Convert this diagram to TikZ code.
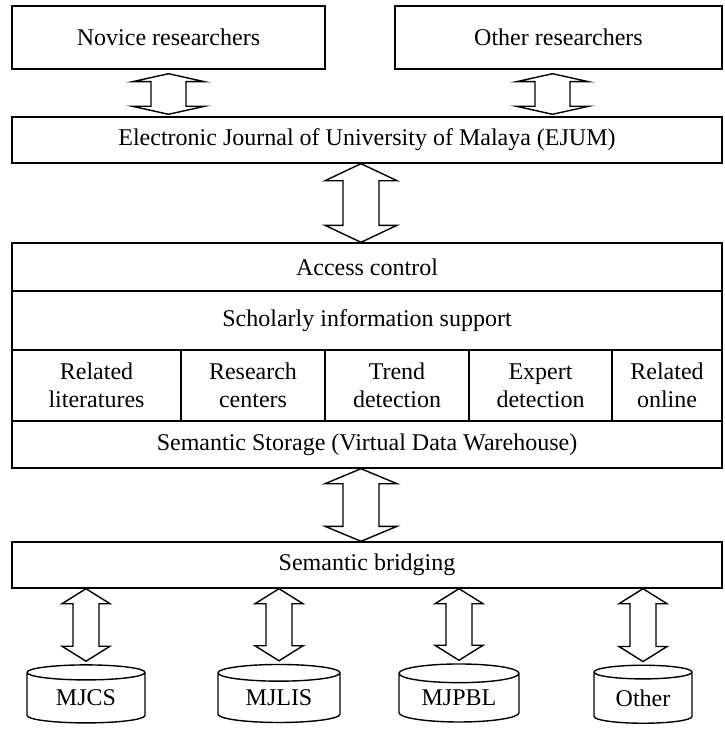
\documentclass[tikz,border=0pt]{standalone}
\usepackage{fontspec}
\setmainfont{Liberation Serif}
\usepackage{tikz}
\usetikzlibrary{positioning,shapes.geometric,calc}

\tikzset{
  layerbox/.style={draw,rectangle,inner sep=0pt,align=center,line width=0.7pt},
  dbstore/.style={draw,cylinder,shape border rotate=90,aspect=0.25,inner sep=0pt,line width=0.7pt},
  twinline/.style={draw,fill=white,line width=0.7pt,line join=miter}
}
% wide double arrow: top tip #1, bottom tip #2, half head #3, half shaft #4, head length #5
\newcommand{\twinarrow}[5]{%
  \path[twinline] (#1) -- ++(#3,#5) -- ++(#4-#3,0) -- ($(#2)+(#4,-#5)$) -- ++(#3-#4,0)
    -- (#2) -- ++(-#3,-#5) -- ++(#3-#4,0) -- ($(#1)+(-#4,#5)$) -- ++(#4-#3,0) -- cycle;}

\begin{document}
\begin{tikzpicture}[x=0.5pt,y=-0.5pt,font=\fontsize{12}{14}\selectfont]
  % lienzo en pixeles, y hacia abajo
  \useasboundingbox (0,0) rectangle (724,733);
  % --- usuarios ---
  \node[layerbox,minimum width=156.5pt,minimum height=31.5pt] (novice) at (168.5,37.5) {Novice researchers};
  \node[layerbox,minimum width=163.5pt,minimum height=31.5pt] (other) at (558.5,37.5) {Other researchers};
  \node[layerbox,minimum width=355pt,minimum height=23pt] (ejum) at (367,140) {Electronic Journal of University of Malaya (EJUM)};
  % --- bloque central ---
  \node[layerbox,minimum width=355pt,minimum height=24pt] (access) at (367,267) {Access control};
  \node[layerbox,minimum width=355pt,minimum height=29.5pt] (scholar) at (367,320.5) {Scholarly information support};
  \node[layerbox,minimum width=84.5pt,minimum height=35.5pt] (lit) at (96.5,385.5) {Related\\literatures};
  \node[layerbox,minimum width=72pt,minimum height=35.5pt] (centers) at (253,385.5) {Research\\centers};
  \node[layerbox,minimum width=72pt,minimum height=35.5pt] (trend) at (397,385.5) {Trend\\detection};
  \node[layerbox,minimum width=71.5pt,minimum height=35.5pt] (expert) at (540.5,385.5) {Expert\\detection};
  \node[layerbox,minimum width=55pt,minimum height=35.5pt] (online) at (667,385.5) {Related\\online};
  \node[layerbox,minimum width=355pt,minimum height=23.5pt] (storage) at (367,444.5) {Semantic Storage (Virtual Data Warehouse)};
  \node[layerbox,minimum width=355pt,minimum height=23pt] (bridge) at (367,565) {Semantic bridging};
  % --- fuentes ---
  \node[dbstore,minimum width=59pt,minimum height=29pt] (mjcs) at (86,698) {MJCS};
  \node[dbstore,minimum width=61pt,minimum height=29pt] (mjlis) at (279,698) {MJLIS};
  \node[dbstore,minimum width=60pt,minimum height=29pt] (mjpbl) at (459,698) {MJPBL};
  \node[dbstore,minimum width=49pt,minimum height=29pt] (othdb) at (643,698) {Other};
  % --- flechas dobles ---
  \coordinate (n1) at ($(novice.south)+(0,4)$);
  \coordinate (n2) at ($(ejum.north -| n1)+(0,-2)$);
  \coordinate (o1) at ($(other.south)+(-6,4)$);
  \coordinate (o2) at ($(ejum.north -| o1)+(0,-2)$);
  \twinarrow{n1}{n2}{36}{17.5}{8}
  \twinarrow{o1}{o2}{36}{17.5}{8}
  \coordinate (e1) at ($(ejum.south)+(-6,0)$);
  \coordinate (e2) at (access.north -| e1);
  \twinarrow{e1}{e2}{36}{18}{17}
  \coordinate (s1) at ($(storage.south)+(-6,0)$);
  \coordinate (s2) at (bridge.north -| s1);
  \twinarrow{s1}{s2}{36}{18}{15}
  \foreach \db in {mjcs,mjlis,mjpbl,othdb}{
    \coordinate (\db-b) at ($(\db.north)+(0,-3)$);
    \coordinate (\db-t) at (bridge.south -| \db-b);
    \twinarrow{\db-t}{\db-b}{24}{13}{15}
  }
\end{tikzpicture}
\end{document}
